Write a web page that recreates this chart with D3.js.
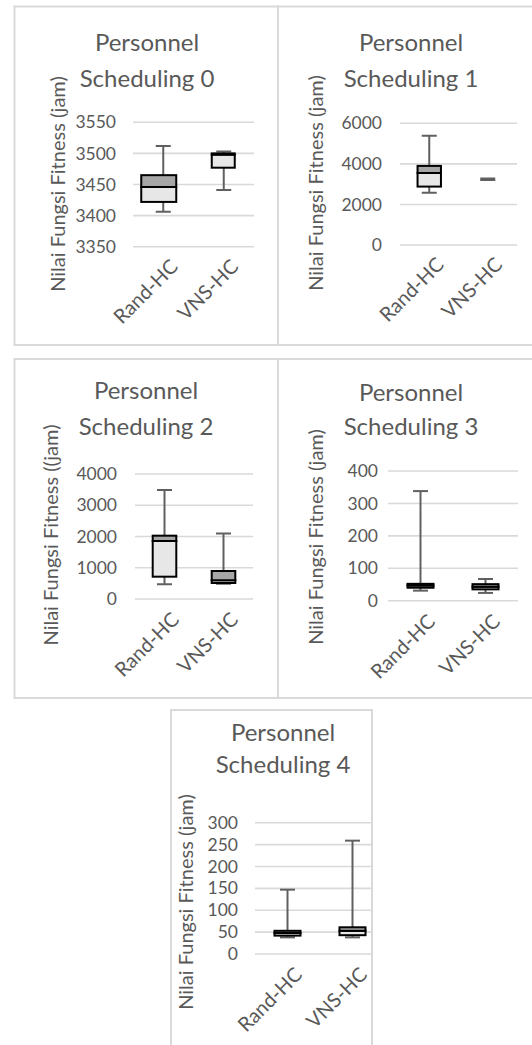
<!DOCTYPE html>
<html>
<head>
<meta charset="utf-8">
<script src="https://cdn.jsdelivr.net/npm/d3@7"></script>
<style>
  html, body { margin: 0; padding: 0; background: #fff; }
  svg { display: block; }
  text { font-family: Lato, "Open Sans", sans-serif; fill: #595959; }
</style>
</head>
<body>
<svg id="chart" width="532" height="1045"></svg>
<script>
// Categories shared by every panel
const categories = ["Rand-HC", "VNS-HC"];

// Panel titles (two lines each) and y-axis titles
const titles = [
  ["Personnel", "Scheduling 0"],
  ["Personnel", "Scheduling 1"],
  ["Personnel", "Scheduling 2"],
  ["Personnel", "Scheduling 3"],
  ["Personnel", "Scheduling 4"]
];
const yTitles = [
  "Nilai Fungsi Fitness (jam)",
  "Nilai Fungsi Fitness (jam)",
  "Nilai Fungsi Fitness ((jam)",
  "Nilai Fungsi Fitness (jam)",
  "Nilai Fungsi Fitness (jam)"
];

// Tick values per panel
const ticks0 = [3350, 3400, 3450, 3500, 3550];
const ticks1 = [0, 2000, 4000, 6000];
const ticks2 = [0, 1000, 2000, 3000, 4000];
const ticks3 = [0, 100, 200, 300, 400];
const ticks4 = [0, 50, 100, 150, 200, 250, 300];

// Five-number summaries [min, q1, median, q3, max] per category
const stats0 = [[3406, 3422, 3446, 3465, 3512], [3441, 3477, 3498, 3500, 3503]];
const stats1 = [[2580, 2880, 3550, 3900, 5390], [3200, 3240, 3240, 3240, 3280]];
const stats2 = [[470, 714, 1856, 2026, 3490], [490, 512, 600, 896, 2100]];
const stats3 = [[31, 40, 47, 52, 338], [24, 35, 43, 51, 67]];
const stats4 = [[38, 42, 48, 53, 147], [38, 43, 53, 61, 259]];

const allTicks = [ticks0, ticks1, ticks2, ticks3, ticks4];
const allStats = [stats0, stats1, stats2, stats3, stats4];

// Frame, plot area and text anchors for each panel
const layout = [
  { frame: [14.5, 6.5, 263.5, 338.5], plot: [133, 254, 246.7, 122.3], titleX: 147, titleY: [43, 79], yTitleX: 58, yTitleY: 184, tickRight: 116, xLabY: 258,
    boxEdges: [[22, 13], [12, 11]] },
  { frame: [278, 6.5, 260, 338.5], plot: [400, 517, 245, 123.3], titleX: 411, titleY: [43, 79], yTitleX: 316, yTitleY: 183, tickRight: 382, xLabY: 256 },
  { frame: [14.5, 359, 263.5, 339], plot: [135, 253, 599, 474], titleX: 146, titleY: [391, 427], yTitleX: 51, yTitleY: 535, tickRight: 117, xLabY: 611 },
  { frame: [278, 359, 260, 339], plot: [388, 518, 600.7, 471], titleX: 411, titleY: [393, 427], yTitleX: 316, yTitleY: 537, tickRight: 378, xLabY: 613 },
  { frame: [171, 710, 201, 340], plot: [255, 385, 954, 822.7], titleX: 283, titleY: [733, 765], yTitleX: 186, yTitleY: 902, tickRight: 238, xLabY: 966 }
];

const svg = d3.select("#chart");

const gridColor = "#d9d9d9";
const whiskerColor = "#606060";
const upperFill = "#a6a6a6";
const lowerFill = "#e7e7e7";

layout.forEach((L, i) => {
  const g = svg.append("g");
  const [fx, fy, fw, fh] = L.frame;

  // Clip so content stays inside the chart frame
  const clipId = "clip" + i;
  svg.append("clipPath").attr("id", clipId)
    .append("rect").attr("x", fx).attr("y", fy).attr("width", fw).attr("height", fh);
  const inner = g.append("g").attr("clip-path", `url(#${clipId})`);

  const ticks = allTicks[i];
  const stats = allStats[i];
  const [x0, x1, yb, yt] = L.plot;

  const y = d3.scaleLinear().domain([ticks[0], ticks[ticks.length - 1]]).range([yb, yt]);
  const x = d3.scaleBand().domain(categories).range([x0, x1]);

  // Gridlines
  inner.append("g").selectAll("line").data(ticks).join("line")
    .attr("x1", x0).attr("x2", x1)
    .attr("y1", d => y(d)).attr("y2", d => y(d))
    .attr("stroke", gridColor).attr("stroke-width", 1.6);

  // Tick labels via d3 axis (domain and tick marks hidden)
  const axis = d3.axisLeft(y).tickValues(ticks).tickSize(0).tickPadding(0).tickFormat(d3.format("d"));
  const ax = inner.append("g").attr("transform", `translate(${L.tickRight},0)`).call(axis);
  ax.select(".domain").remove();
  ax.selectAll("text").attr("font-size", 17.5).attr("fill", "#595959")
    .style("font-family", "Lato, 'Open Sans', sans-serif");

  // Boxes and whiskers
  const half = x.bandwidth() * 0.2;
  const capW = 15;
  stats.forEach((s, j) => {
    const [mn, q1, md, q3, mx] = s;
    const cx = x(categories[j]) + x.bandwidth() / 2;
    const [hl, hr] = L.boxEdges ? L.boxEdges[j] : [half, half];
    const bx = cx - hl, bwid = hl + hr;
    const bg = inner.append("g");
    // whiskers
    bg.append("line").attr("x1", cx).attr("x2", cx).attr("y1", y(mx)).attr("y2", y(q3))
      .attr("stroke", whiskerColor).attr("stroke-width", 2);
    bg.append("line").attr("x1", cx).attr("x2", cx).attr("y1", y(q1)).attr("y2", y(mn))
      .attr("stroke", whiskerColor).attr("stroke-width", 2);
    [mn, mx].forEach(v => {
      bg.append("line").attr("x1", cx - capW / 2).attr("x2", cx + capW / 2)
        .attr("y1", y(v)).attr("y2", y(v))
        .attr("stroke", whiskerColor).attr("stroke-width", 2);
    });
    // lower segment: q1 to median
    if (md > q1) {
      bg.append("rect").attr("x", bx).attr("width", bwid)
        .attr("y", y(md)).attr("height", y(q1) - y(md))
        .attr("fill", lowerFill).attr("stroke", "#000").attr("stroke-width", 2);
    }
    // upper segment: median to q3
    if (q3 > md) {
      bg.append("rect").attr("x", bx).attr("width", bwid)
        .attr("y", y(q3)).attr("height", y(md) - y(q3))
        .attr("fill", upperFill).attr("stroke", "#000").attr("stroke-width", 2);
    }
  });

  // Rotated category labels
  inner.append("g").selectAll("text").data(categories).join("text")
    .attr("transform", d => `translate(${x(d) + x.bandwidth() / 2 + 6},${L.xLabY}) rotate(-45)`)
    .attr("text-anchor", "end")
    .attr("dy", "0.7em")
    .attr("font-size", 20)
    .text(d => d);

  // Axis title
  inner.append("text")
    .attr("transform", `translate(${L.yTitleX},${L.yTitleY}) rotate(-90)`)
    .attr("text-anchor", "middle").attr("dy", "0.35em")
    .attr("font-size", 20)
    .text(yTitles[i]);

  // Chart title
  inner.append("g").selectAll("text").data(titles[i]).join("text")
    .attr("x", L.titleX).attr("y", (d, k) => L.titleY[k])
    .attr("text-anchor", "middle").attr("dy", "0.35em")
    .attr("font-size", 24)
    .text(d => d);

  // Frame
  g.append("rect").attr("x", fx).attr("y", fy).attr("width", fw).attr("height", fh)
    .attr("fill", "none").attr("stroke", gridColor).attr("stroke-width", 2);
});
</script>
</body>
</html>
